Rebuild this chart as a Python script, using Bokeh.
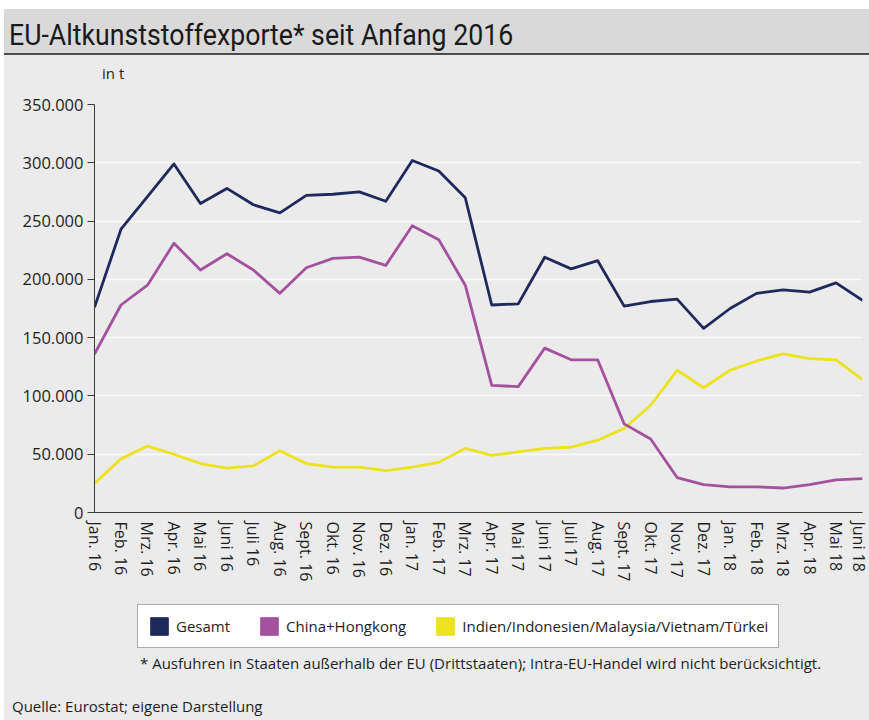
from bokeh.plotting import figure
from bokeh.models import Range1d, FixedTicker, Legend, LegendItem, Div
from bokeh.layouts import column
from bokeh.core.properties import value
from bokeh.embed import file_html
from bokeh.resources import INLINE

# ---------------- data ----------------
months = ["Jan. 16", "Feb. 16", "Mrz. 16", "Apr. 16", "Mai 16", "Juni 16",
          "Juli 16", "Aug. 16", "Sept. 16", "Okt. 16", "Nov. 16", "Dez. 16",
          "Jan. 17", "Feb. 17", "Mrz. 17", "Apr. 17", "Mai 17", "Juni 17",
          "Juli 17", "Aug. 17", "Sept. 17", "Okt. 17", "Nov. 17", "Dez. 17",
          "Jan. 18", "Feb. 18", "Mrz. 18", "Apr. 18", "Mai 18", "Juni 18"]

gesamt = [176000, 243000, 271000, 299000, 265000, 278000, 264000, 257000,
          272000, 273000, 275000, 267000, 302000, 293000, 270000, 178000,
          179000, 219000, 209000, 216000, 177000, 181000, 183000, 158000,
          175000, 188000, 191000, 189000, 197000, 182000]

china = [136000, 178000, 195000, 231000, 208000, 222000, 208000, 188000,
         210000, 218000, 219000, 212000, 246000, 234000, 195000, 109000,
         108000, 141000, 131000, 131000, 76000, 63000, 30000, 24000,
         22000, 22000, 21000, 24000, 28000, 29000]

asien = [25000, 46000, 57000, 50000, 42000, 38000, 40000, 53000,
         42000, 39000, 39000, 36000, 39000, 43000, 55000, 49000,
         52000, 55000, 56000, 62000, 72000, 92000, 122000, 107000,
         122000, 130000, 136000, 132000, 131000, 114000]

series_names = ["Gesamt", "China+Hongkong", "Indien/Indonesien/Malaysia/Vietnam/Türkei"]
series_colors = ["#1f2a5c", "#a4519e", "#ece21e"]

y_ticks = [0, 50000, 100000, 150000, 200000, 250000, 300000, 350000]
y_tick_labels = ["0", "50.000", "100.000", "150.000", "200.000", "250.000",
                 "300.000", "350.000"]

title_text = "EU-Altkunststoffexporte* seit Anfang 2016"
unit_text = "in t"
footnote_text = ("* Ausfuhren in Staaten außerhalb der EU (Drittstaaten); "
                 "Intra-EU-Handel wird nicht berücksichtigt.")
source_text = "Quelle: Eurostat; eigene Darstellung"

BG = "#ebebeb"
FONT = "Open Sans"
TXT = "#1e1e1e"

x = list(range(len(months)))

# ---------------- main figure ----------------
p = figure(width=865, height=513, title=None,
           x_range=Range1d(0, len(months) - 1), y_range=Range1d(0, 350000),
           output_backend="svg", toolbar_location=None,
           min_border_left=90, min_border_right=7,
           min_border_top=17, min_border_bottom=88,
           background_fill_color=BG, border_fill_color=BG,
           outline_line_color=None)

# grid
p.xgrid.visible = False
p.ygrid.ticker = FixedTicker(ticks=y_ticks)
p.ygrid.grid_line_color = "#fafafa"
p.ygrid.grid_line_width = 1.6

# y axis
p.yaxis.ticker = FixedTicker(ticks=y_ticks)
p.yaxis.major_label_overrides = {t: l for t, l in zip(y_ticks, y_tick_labels)}
p.yaxis.major_tick_out = 7
p.yaxis.major_tick_in = 0
p.yaxis.minor_tick_line_color = None
p.yaxis.axis_line_color = "#3a3a3a"
p.yaxis.major_tick_line_color = "#3a3a3a"
p.yaxis.major_label_text_font = FONT
p.yaxis.major_label_text_font_size = "16.5px"
p.yaxis.major_label_text_color = TXT
p.yaxis.major_label_standoff = 4

# x axis
p.xaxis.ticker = FixedTicker(ticks=x)
p.xaxis.major_label_overrides = {i: m for i, m in zip(x, months)}
p.xaxis.major_label_orientation = "vertical"
p.xaxis.major_tick_out = 0
p.xaxis.major_tick_in = 0
p.xaxis.minor_tick_line_color = None
p.xaxis.axis_line_color = "#3a3a3a"
p.xaxis.major_label_text_font = FONT
p.xaxis.major_label_text_font_size = "16px"
p.xaxis.major_label_text_color = TXT
p.xaxis.major_label_standoff = 9

# lines
for data, col in [(asien, series_colors[2]), (china, series_colors[1]), (gesamt, series_colors[0])]:
    p.line(x, data, line_color=col, line_width=2.8, line_join="round")

# ---------------- legend figure ----------------
lg = figure(width=865, height=52, title=None,
            x_range=Range1d(0, 1), y_range=Range1d(0, 1),
            output_backend="svg", toolbar_location=None,
            x_axis_location=None, y_axis_location=None,
            min_border=0, background_fill_color=BG, border_fill_color=BG,
            outline_line_color=None)
lg.grid.visible = False

nan = float("nan")
items = []
for name, col in zip(series_names, series_colors):
    r = lg.quad(left=[nan], right=[nan], top=[nan], bottom=[nan],
                fill_color=col, line_color=col)
    items.append(LegendItem(label=value(name), renderers=[r]))

legend = Legend(items=items, orientation="horizontal", location=(43, 4),
                border_line_color="#555555", border_line_width=1,
                background_fill_color="white", background_fill_alpha=1,
                label_text_font=FONT, label_text_font_size="15px",
                label_text_color=TXT,
                glyph_width=22, glyph_height=22, spacing=28, padding=10,
                margin=0, label_standoff=6)
lg.add_layout(legend, "center")

# ---------------- surrounding text ----------------
title_div = Div(
    text=('<div style="width:865px;height:46px;background:#d9d9d9;'
          'border-bottom:2px solid #4d4d4d;overflow:hidden;white-space:nowrap;">'
          '<span style="display:inline-block;font-family:Roboto;font-size:30px;'
          'line-height:52px;margin-left:5px;color:#1a1a1a;transform:scaleX(0.89);'
          'transform-origin:left center;">' + title_text + '</span></div>'
          '<div style="height:30px;background:#ebebeb;font-family:\'Open Sans\';'
          'font-size:15px;line-height:20px;padding-top:8px;box-sizing:border-box;'
          'padding-left:98px;color:#1e1e1e;">' + unit_text + '</div>'),
    width=865, height=78, margin=0, styles={"background-color": BG})

foot_div = Div(
    text=('<div style="font-family:\'Open Sans\';font-size:15px;line-height:22px;'
          'color:#1e1e1e;padding-left:136px;white-space:nowrap;">' + footnote_text + '</div>'),
    width=865, height=24, margin=0, styles={"background-color": BG})

src_div = Div(
    text=('<div style="font-family:\'Open Sans\';font-size:15px;line-height:20px;'
          'color:#1e1e1e;padding-left:8px;padding-top:20px;white-space:nowrap;">'
          + source_text + '</div>'),
    width=865, height=44, margin=0, styles={"background-color": BG})

layout = column(title_div, p, lg, foot_div, src_div, spacing=0,
                margin=(9, 0, 0, 4), styles={"background-color": BG})

open("out.html", "w").write(file_html(layout, INLINE))
